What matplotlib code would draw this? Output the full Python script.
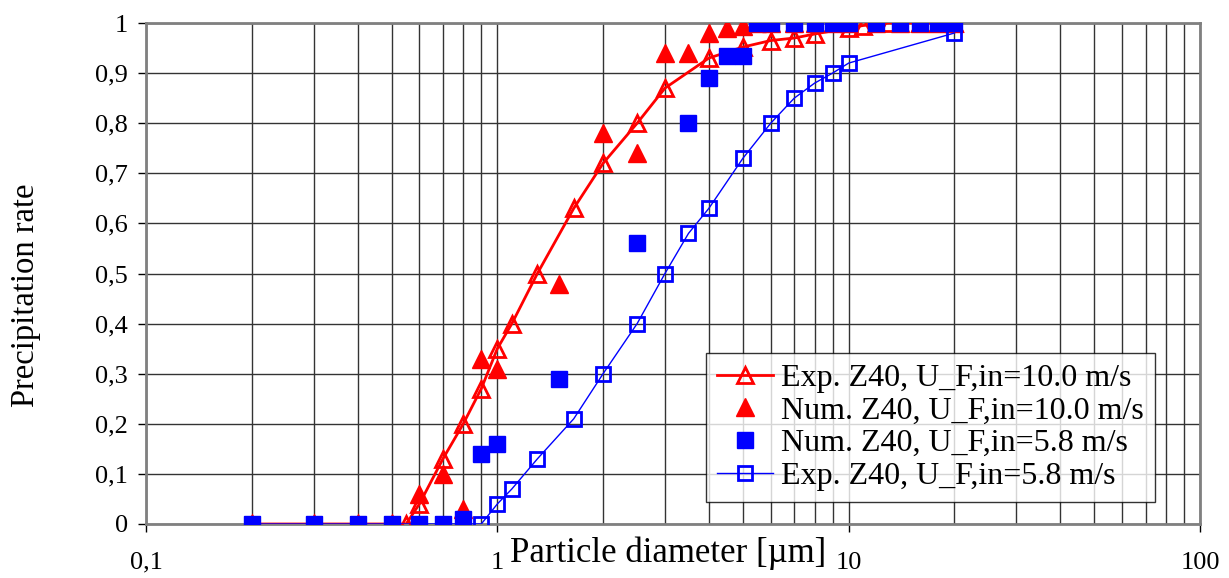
import numpy as np
import matplotlib
matplotlib.use("Agg")
import matplotlib.pyplot as plt
from matplotlib.ticker import FixedLocator, NullFormatter

plt.rcParams['font.family'] = ['Liberation Serif', 'DejaVu Serif']

# --- data ---
exp10_x = [0.2, 0.3, 0.4, 0.5, 0.55, 0.6, 0.7, 0.8, 0.9, 1.0, 1.1, 1.3, 1.65, 2.0,
           2.5, 3.0, 4.0, 5.0, 6.0, 7.0, 8.0, 10.0, 11.0, 13.0, 16.0, 20.0]
exp10_y = [0, 0, 0, 0, 0, 0.04, 0.13, 0.20, 0.27, 0.35, 0.40, 0.50, 0.63, 0.72,
           0.80, 0.87, 0.93, 0.952, 0.965, 0.97, 0.978, 0.99, 0.995, 1.0, 1.0, 1.0]

num10_x = [0.2, 0.3, 0.4, 0.5, 0.6, 0.7, 0.8, 0.9, 1.0, 1.5, 2.0, 2.5, 3.0, 3.5,
           4.0, 4.5, 5.0, 5.5, 6.0, 7.0, 8.0, 9.0, 10.0, 12.0, 14.0, 16.0, 18.0, 20.0]
num10_y = [0, 0, 0, 0, 0.06, 0.10, 0.03, 0.33, 0.31, 0.48, 0.78, 0.74, 0.94, 0.94,
           0.98, 0.99, 0.995, 1, 1, 1, 1, 1, 1, 1, 1, 1, 1, 1]

num58_x = [0.2, 0.3, 0.4, 0.5, 0.6, 0.7, 0.8, 0.9, 1.0, 1.5, 2.5, 3.5, 4.0, 4.5,
           5.0, 5.5, 6.0, 7.0, 8.0, 9.0, 10.0, 12.0, 14.0, 16.0, 18.0, 20.0]
num58_y = [0, 0, 0, 0, 0, 0, 0.01, 0.14, 0.16, 0.29, 0.56, 0.80, 0.89, 0.935,
           0.935, 1, 1, 1, 1, 1, 1, 1, 1, 1, 1, 1]

exp58_x = [0.2, 0.3, 0.4, 0.5, 0.6, 0.7, 0.8, 0.9, 1.0, 1.1, 1.3, 1.65, 2.0, 2.5,
           3.0, 3.5, 4.0, 5.0, 6.0, 7.0, 8.0, 9.0, 10.0, 20.0]
exp58_y = [0, 0, 0, 0, 0, 0, 0, 0, 0.04, 0.07, 0.13, 0.21, 0.30, 0.40,
           0.50, 0.58, 0.63, 0.73, 0.80, 0.85, 0.88, 0.90, 0.92, 0.98]

xticks = [0.1, 1, 10, 100]
xticklabels = ['0,1', '1', '10', '100']
yticks = [0, 0.1, 0.2, 0.3, 0.4, 0.5, 0.6, 0.7, 0.8, 0.9, 1.0]
yticklabels = ['0', '0,1', '0,2', '0,3', '0,4', '0,5', '0,6', '0,7', '0,8', '0,9', '1']

fig = plt.figure(figsize=(12.29, 5.78), dpi=100)
ax = fig.add_axes([146 / 1229, 1 - 524 / 578, 1054 / 1229, 501 / 578])

ax.plot(exp10_x, exp10_y, color='red', lw=2, marker='^', ms=11, mfc='none',
        mec='red', mew=2, label='Exp. Z40, U_F,in=10.0 m/s', zorder=3)
ax.plot(num10_x, num10_y, ls='none', marker='^', ms=12.5, color='red',
        label='Num. Z40, U_F,in=10.0 m/s', zorder=4)
ax.plot(num58_x, num58_y, ls='none', marker='s', ms=11, color='blue',
        label='Num. Z40, U_F,in=5.8 m/s', zorder=5)
ax.plot(exp58_x, exp58_y, color='blue', lw=1, marker='s', ms=10, mfc='none',
        mec='blue', mew=2, label='Exp. Z40, U_F,in=5.8 m/s', zorder=6)

ax.set_xscale('log')
ax.set_xlim(0.1, 100)
ax.set_ylim(0, 1)

ax.xaxis.set_major_locator(FixedLocator(xticks))
ax.set_xticklabels(xticklabels)
minor = [m * 10.0 ** e for e in (-1, 0, 1) for m in range(2, 10)]
ax.xaxis.set_minor_locator(FixedLocator(minor))
ax.xaxis.set_minor_formatter(NullFormatter())
ax.set_yticks(yticks)
ax.set_yticklabels(yticklabels)

ax.tick_params(axis='both', which='major', labelsize=19, direction='out',
               length=6, width=1, colors='black')
ax.tick_params(axis='x', which='major', pad=14)
ax.tick_params(axis='y', which='major', pad=7)
ax.tick_params(axis='x', which='minor', length=0)

ax.grid(True, which='both', axis='x', color='#333333', lw=1)
ax.grid(True, which='major', axis='y', color='#333333', lw=1)
ax.set_axisbelow(True)

for sp in ax.spines.values():
    sp.set_color('#808080')
    sp.set_linewidth(2)

ax.set_xlabel('Particle diameter [µm]', fontsize=25)
ax.xaxis.set_label_coords(0.495, -0.024)
ax.set_ylabel('Precipitation rate', fontsize=23.5, va='center')
ax.yaxis.set_label_coords(-0.114, 0.457)

leg = ax.legend(loc='lower right', bbox_to_anchor=(0.957, 0.044), borderaxespad=0,
                fontsize=23, frameon=True, fancybox=False, handlelength=1.75,
                handletextpad=0.25, labelspacing=0.1, borderpad=0.35)
leg.get_frame().set_edgecolor('black')
leg.get_frame().set_linewidth(1)

fig.savefig('out.png', dpi=100)
